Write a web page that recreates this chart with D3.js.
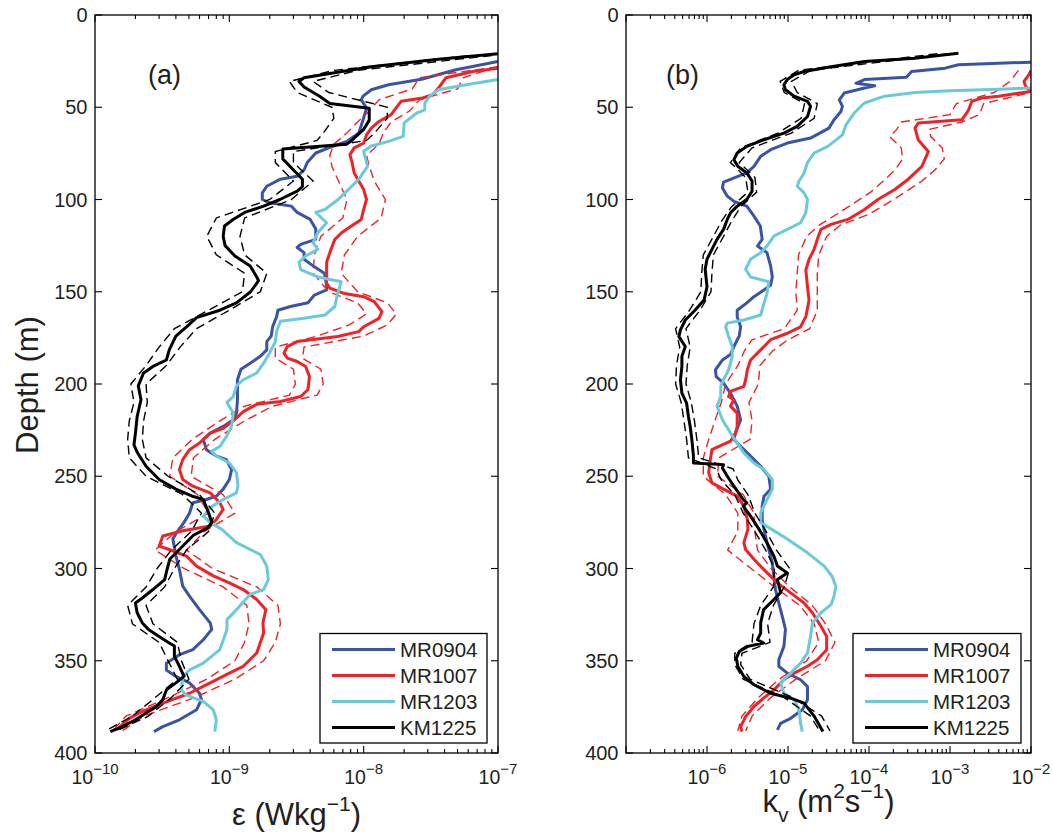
<!DOCTYPE html>
<html>
<head>
<meta charset="utf-8">
<script src="https://cdn.jsdelivr.net/npm/d3@7"></script>
<style>
body { margin: 0; background: #fff; }
svg { font-family: "Liberation Sans", Arial, Helvetica, sans-serif; }
</style>
</head>
<body>
<svg id="chart" width="1053" height="836"></svg>
<script>
// cruises (legend order) and their line colours
var cruises = ["MR0904", "MR1007", "MR1203", "KM1225"];
var colors = { MR0904: "#3a54a5", MR1007: "#ee2227", MR1203: "#6bcad9", KM1225: "#000000" };
var depthTicks = [0, 50, 100, 150, 200, 250, 300, 350, 400];

// ---- panel (a): dissipation rate epsilon (W/kg) ----
var depA_MR0904 = [25.2, 29.7, 34.8, 37.8, 40.5, 44, 46, 50.5, 56.8, 64, 68.5, 72, 74.8, 80, 84, 87.4, 89, 92.8, 96.4, 100, 101.8, 103.6, 107, 110.8, 116, 121.6, 124.3, 126, 128.8, 132.4, 136.5, 140, 146.4, 149, 151.8, 156, 158, 160, 163.5, 169, 174, 177, 181.5, 185, 188.7, 192, 197.7, 208.5, 215.8, 219.4, 223, 226.6, 230, 235.6, 239, 241, 246.4, 251.8, 257, 260.8, 262.6, 264.4, 270, 275, 280, 284, 293, 300.5, 309.6, 315, 322.3, 329.5, 333, 338.6, 344, 346.7, 351.3, 355, 358.5, 362, 367.6, 371, 376.6, 382, 385.7, 388.4];
var epsMR0904 = [1e-7, 4.86e-8, 2.7e-8, 1.53e-8, 1.14e-8, 9.9e-9, 9.6e-9, 1.05e-8, 9.9e-9, 9.2e-9, 7.5e-9, 5.5e-9, 4.4e-9, 3.8e-9, 3.6e-9, 3.2e-9, 2.4e-9, 1.9e-9, 1.76e-9, 1.76e-9, 2e-9, 2.9e-9, 3.2e-9, 4.0e-9, 4.4e-9, 4.4e-9, 3.4e-9, 3.2e-9, 3.6e-9, 3.6e-9, 4.3e-9, 5.1e-9, 5.3e-9, 5.3e-9, 4.3e-9, 3.85e-9, 2.85e-9, 2.3e-9, 2.25e-9, 2.1e-9, 2.05e-9, 1.9e-9, 1.9e-9, 1.7e-9, 1.43e-9, 1.22e-9, 1.15e-9, 1.15e-9, 1.13e-9, 1.07e-9, 9e-10, 7.2e-10, 6.4e-10, 6.75e-10, 8e-10, 9.5e-10, 1.04e-9, 1.0e-9, 9e-10, 8e-10, 6.75e-10, 5.35e-10, 5.05e-10, 4.6e-10, 4.1e-10, 3.8e-10, 4e-10, 4.25e-10, 4.5e-10, 5.05e-10, 6.0e-10, 7.2e-10, 7.4e-10, 6.4e-10, 5.35e-10, 4.25e-10, 3.4e-10, 3.4e-10, 4e-10, 5.05e-10, 6.0e-10, 6.2e-10, 5.7e-10, 4.25e-10, 3.2e-10, 2.75e-10];

var depA_MR1007 = [28.8, 30.6, 34, 39.6, 43, 45, 46.8, 51.4, 54, 57.7, 61.3, 65, 69.4, 72, 75.7, 80, 85.6, 90, 94.6, 100, 105.4, 110.8, 114.4, 118, 121.6, 128.8, 134, 145.5, 148, 151, 152.7, 155.4, 160.8, 164.4, 169, 171.6, 174.3, 177, 179.7, 183.3, 186, 187.8, 190.5, 196, 203, 206.8, 209.5, 211, 215, 220, 224, 226.6, 232, 235.6, 241, 246.4, 251.8, 255.4, 259, 264.4, 268, 273.4, 277, 279.5, 282.4, 287.9, 289.7, 293.3, 298.7, 304, 307.8, 311.4, 316.8, 322.3, 329.5, 335, 345.8, 353, 356.7, 362, 367.6, 373, 377.5, 381.2, 387.5];
var epsMR1007 = [1e-7, 6.5e-8, 4.1e-8, 3.6e-8, 3.3e-8, 2.75e-8, 1.9e-8, 1.7e-8, 1.6e-8, 1.3e-8, 1.14e-8, 1.05e-8, 1.0e-8, 8.5e-9, 7.9e-9, 8.2e-9, 8.5e-9, 9.2e-9, 1.0e-8, 1.05e-8, 1.0e-8, 9.6e-9, 8.1e-9, 6.85e-9, 6.1e-9, 5.6e-9, 5.3e-9, 5.3e-9, 5.6e-9, 7.2e-9, 1.0e-8, 1.2e-8, 1.37e-8, 1.3e-8, 1.0e-8, 9.2e-9, 6.4e-9, 3.2e-9, 2.7e-9, 2.55e-9, 2.7e-9, 3.2e-9, 3.7e-9, 3.95e-9, 3.85e-9, 3.4e-9, 2.4e-9, 1.6e-9, 1.27e-9, 1.07e-9, 9e-10, 7.2e-10, 6.0e-10, 5.05e-10, 4.5e-10, 4.25e-10, 4.5e-10, 5.35e-10, 7.2e-10, 8.5e-10, 9e-10, 8e-10, 7.2e-10, 4.5e-10, 3.2e-10, 3e-10, 3.57e-10, 4.8e-10, 5.7e-10, 7.6e-10, 1e-9, 1.27e-9, 1.6e-9, 1.87e-9, 1.78e-9, 1.8e-9, 1.6e-9, 1.27e-9, 1e-9, 7.2e-10, 5.05e-10, 3.2e-10, 2.25e-10, 1.8e-10, 1.45e-10];
var depA_MR1007ci = [28, 34, 40, 46, 52, 58, 64, 70, 76, 82, 90, 100, 110, 120, 130, 140, 150, 156, 162, 168, 174, 180, 186, 192, 200, 206, 212, 220, 230, 240, 250, 260, 270, 280, 290, 300, 310, 320, 330, 340, 350, 360, 370, 380, 388];
var epsMR1007lo = [1e-7, 2.6e-8, 2.3e-8, 1.3e-8, 1.1e-8, 9e-9, 7.5e-9, 6e-9, 5.6e-9, 5.8e-9, 6.5e-9, 7.5e-9, 7e-9, 4.8e-9, 4.3e-9, 4.2e-9, 5.5e-9, 9e-9, 1.05e-8, 7.8e-9, 4.5e-9, 2.2e-9, 2.2e-9, 3.0e-9, 3.1e-9, 2.8e-9, 1.3e-9, 8.5e-10, 5.3e-10, 3.8e-10, 3.6e-10, 5.8e-10, 7e-10, 4.0e-10, 2.8e-10, 4.6e-10, 9e-10, 1.35e-9, 1.4e-9, 1.3e-9, 1.1e-9, 6.8e-10, 3.5e-10, 1.7e-10, 1.35e-10];
var epsMR1007hi = [1e-7, 5.5e-8, 5e-8, 2.6e-8, 2.2e-8, 1.6e-8, 1.4e-8, 1.3e-8, 1.05e-8, 1.1e-8, 1.2e-8, 1.45e-8, 1.35e-8, 9e-9, 7.2e-9, 6.8e-9, 9e-9, 1.5e-8, 1.75e-8, 1.5e-8, 1.0e-8, 3.6e-9, 3.5e-9, 4.8e-9, 5e-9, 4.5e-9, 2.1e-9, 1.3e-9, 7.8e-10, 5.4e-10, 5.2e-10, 9e-10, 1.1e-9, 6.5e-10, 4.8e-10, 7.5e-10, 1.6e-9, 2.3e-9, 2.4e-9, 2.2e-9, 1.8e-9, 1.1e-9, 5.5e-10, 2.3e-10, 1.6e-10];

var depA_MR1203 = [35, 37.8, 40.5, 44, 47.7, 51.4, 53, 58.5, 65.8, 68.5, 71, 73.9, 82, 89, 94.6, 100, 105.4, 107, 112.6, 118, 123.4, 127, 130.6, 134, 138, 142, 144.6, 151, 158, 162.6, 164.4, 166, 171.6, 177, 183, 188.7, 194, 197.7, 201, 206.8, 210, 215.8, 223, 228, 233.8, 236.5, 239, 242.8, 248, 255, 259, 262.6, 267, 271.6, 275, 278.8, 286, 292.4, 298.7, 306, 311.4, 314, 322.3, 327.7, 333, 344, 351.3, 355, 358.5, 365.8, 368.5, 372, 376.6, 382, 388.4];
var epsMR1203 = [1e-7, 5.8e-8, 3.6e-8, 3.1e-8, 2.85e-8, 2.85e-8, 2.5e-8, 2.0e-8, 1.97e-8, 1.53e-8, 1.14e-8, 1.0e-8, 1.07e-8, 9.2e-9, 7.7e-9, 6.45e-9, 5.15e-9, 4.4e-9, 5.3e-9, 4.55e-9, 4.2e-9, 4.55e-9, 3.7e-9, 3.3e-9, 3.4e-9, 4.55e-9, 6.8e-9, 6.4e-9, 6.1e-9, 5.15e-9, 3.6e-9, 2.4e-9, 2.25e-9, 2.2e-9, 2e-9, 1.8e-9, 1.6e-9, 1.27e-9, 1.13e-9, 1.07e-9, 9.6e-10, 1.07e-9, 1.04e-9, 9.6e-10, 8.5e-10, 7.4e-10, 8e-10, 1e-9, 1.13e-9, 1.16e-9, 1.13e-9, 9e-10, 7.2e-10, 6.4e-10, 7.2e-10, 8.8e-10, 1.13e-9, 1.7e-9, 1.9e-9, 1.95e-9, 1.8e-9, 1.43e-9, 1.13e-9, 9.6e-10, 9.6e-10, 8.5e-10, 6.4e-10, 5.05e-10, 4.5e-10, 4.4e-10, 4.75e-10, 6.4e-10, 7.6e-10, 8e-10, 7.8e-10];

var depA_KM1225 = [21, 24, 28, 31, 34, 36, 39, 44, 48, 50.5, 57, 62, 68.5, 70, 72.6, 78, 84, 89, 93, 95.5, 100, 103.6, 107, 111, 114.4, 120, 125, 130.6, 136, 142, 144, 150, 156, 160, 164, 169, 174, 181.5, 187, 190.5, 194, 201, 208.5, 217.6, 226.6, 233, 237, 244.6, 251.8, 257, 261, 262.6, 269.8, 275, 278, 282, 289.7, 295, 302, 306, 311.4, 316, 318.7, 324, 329.5, 333, 336.8, 340.4, 342, 347.6, 353, 358.5, 362, 365.8, 371, 375, 377.5, 382, 385.7, 388.4];
var epsKM1225 = [1e-7, 3.6e-8, 1.14e-8, 6.4e-9, 3.6e-9, 3.3e-9, 3.6e-9, 4.7e-9, 5.6e-9, 1.1e-8, 1.1e-8, 1.0e-8, 8e-9, 7.5e-9, 2.5e-9, 2.5e-9, 3e-9, 3.5e-9, 3.5e-9, 3.2e-9, 2.38e-9, 1.8e-9, 1.3e-9, 1.06e-9, 9.2e-10, 9e-10, 9.3e-10, 1.1e-9, 1.43e-9, 1.6e-9, 1.65e-9, 1.44e-9, 1.13e-9, 8.5e-10, 5.7e-10, 4.8e-10, 4.0e-10, 3.57e-10, 3.4e-10, 2.7e-10, 2.3e-10, 2.1e-10, 2.2e-10, 2.06e-10, 2.0e-10, 1.95e-10, 2.06e-10, 2.4e-10, 3.0e-10, 4.0e-10, 5.4e-10, 6.4e-10, 7e-10, 7.4e-10, 6.9e-10, 5.4e-10, 4.25e-10, 3.6e-10, 3.4e-10, 3.3e-10, 2.7e-10, 2.25e-10, 2.0e-10, 2.06e-10, 2.25e-10, 2.5e-10, 3.0e-10, 3.57e-10, 3.9e-10, 3.9e-10, 4.25e-10, 4.6e-10, 4.0e-10, 3.4e-10, 3.2e-10, 2.85e-10, 2.5e-10, 2.0e-10, 1.6e-10, 1.3e-10];
var depA_KM1225ci = [22, 30, 36, 42, 50, 56, 64, 68, 74, 80, 90, 100, 110, 120, 130, 140, 150, 160, 170, 180, 190, 200, 210, 220, 230, 240, 250, 260, 270, 280, 290, 300, 310, 320, 330, 340, 350, 360, 370, 380, 388];
var epsKM1225lo = [6e-8, 6e-9, 2.8e-9, 3.2e-9, 5.8e-9, 6e-9, 5e-9, 4.5e-9, 2.2e-9, 2.2e-9, 3.0e-9, 2.0e-9, 8e-10, 6.8e-10, 8e-10, 1.3e-9, 1.25e-9, 7e-10, 3.9e-10, 3.0e-10, 2.4e-10, 1.85e-10, 1.95e-10, 1.8e-10, 1.75e-10, 1.8e-10, 2.4e-10, 4.5e-10, 6.2e-10, 5.2e-10, 3.7e-10, 2.9e-10, 2.4e-10, 1.75e-10, 1.9e-10, 3.0e-10, 3.5e-10, 4.1e-10, 2.8e-10, 1.9e-10, 1.2e-10];
var epsKM1225hi = [9e-8, 9e-9, 4.2e-9, 5.5e-9, 1.5e-8, 1.5e-8, 1.2e-8, 1.05e-8, 3.0e-9, 3.0e-9, 4.2e-9, 2.9e-9, 1.3e-9, 1.2e-9, 1.3e-9, 1.9e-9, 1.7e-9, 1.0e-9, 5.7e-10, 4.3e-10, 3.4e-10, 2.4e-10, 2.45e-10, 2.3e-10, 2.25e-10, 2.4e-10, 3.5e-10, 6.0e-10, 7.8e-10, 7.0e-10, 4.8e-10, 3.9e-10, 3.3e-10, 2.4e-10, 2.7e-10, 4.1e-10, 4.4e-10, 5.0e-10, 3.7e-10, 2.5e-10, 1.45e-10];

// ---- panel (b): diffusivity k_v (m^2/s) ----
var depB_MR0904 = [25.6, 26.1, 27, 28.8, 30.6, 33.7, 35, 37, 38.4, 39.6, 42.3, 46, 49.5, 52.3, 56.8, 61.3, 66.7, 69.4, 73, 76.6, 82, 85.6, 90.6, 93.7, 98.2, 101, 103.6, 109, 114.4, 121.6, 125.2, 128.8, 136, 142, 146.4, 149, 152.7, 156, 160, 163.5, 169, 174, 179.7, 184, 187, 192.3, 196, 199.5, 205, 212, 219.4, 226.6, 230, 233.8, 239, 244.6, 250, 257, 260.8, 266.2, 273.4, 278.8, 286, 297, 311.4, 318.7, 326, 333, 342.2, 349.5, 353, 356.7, 360.3, 364, 371.2, 376.6, 381.2, 383.9, 387.5];
var kvMR0904 = [1e-2, 4e-3, 1.27e-3, 8.7e-4, 3.35e-4, 2.9e-4, 8.8e-5, 6.9e-5, 1.18e-4, 8.8e-5, 4.95e-5, 4.3e-5, 4.7e-5, 4.5e-5, 3.7e-5, 3.2e-5, 1.9e-5, 9.8e-6, 6.1e-6, 4.6e-6, 3.8e-6, 3.1e-6, 1.6e-6, 1.55e-6, 1.78e-6, 2.15e-6, 3.1e-6, 3.8e-6, 4.55e-6, 4.8e-6, 4.2e-6, 5.5e-6, 6.1e-6, 6.4e-6, 6.1e-6, 5.05e-6, 3.8e-6, 3.1e-6, 2.36e-6, 2.36e-6, 2.6e-6, 2.5e-6, 2.15e-6, 1.95e-6, 1.55e-6, 1.27e-6, 1.3e-6, 1.6e-6, 1.95e-6, 2.36e-6, 2.6e-6, 2.25e-6, 2.15e-6, 2.6e-6, 3.45e-6, 4.6e-6, 5.8e-6, 6.1e-6, 5.05e-6, 4.8e-6, 4.8e-6, 5.05e-6, 5.5e-6, 6.4e-6, 7.0e-6, 7.7e-6, 8.5e-6, 9.3e-6, 8.9e-6, 7.7e-6, 7.7e-6, 9.8e-6, 1.43e-5, 1.74e-5, 1.74e-5, 1.5e-5, 1.08e-5, 8.1e-6, 7.4e-6];

var depB_MR1007 = [30, 32.4, 36, 38.7, 41.4, 44, 45, 46.8, 51.4, 55, 56.8, 58.5, 61.3, 67.6, 74, 82, 89, 94.6, 100, 105.4, 110.8, 113.5, 116.2, 121.6, 127, 132.4, 138.3, 147.3, 154.5, 163.5, 169, 172.5, 176, 181.5, 187, 192.3, 197.7, 201.3, 204, 206.8, 208.5, 212, 215.8, 223, 226.6, 231, 235.6, 241, 248, 253.6, 257, 260.8, 266.2, 273.4, 278.8, 286, 289.7, 295, 300.5, 307.8, 313.2, 318.7, 324, 331.3, 336.8, 344, 349.5, 353, 356.7, 360.3, 365.8, 370.3, 374.8, 380.3, 385.7, 388.4];
var kvMR1007 = [1e-2, 9.4e-3, 8.2e-3, 8.6e-3, 1e-2, 4e-3, 2.47e-3, 1.86e-3, 1.7e-3, 1.5e-3, 1.4e-3, 4.05e-4, 3.7e-4, 4.05e-4, 5.4e-4, 4.5e-4, 3.05e-4, 2.08e-4, 1.29e-4, 8.8e-5, 5.5e-5, 3.4e-5, 2.55e-5, 2.3e-5, 2.1e-5, 1.82e-5, 1.66e-5, 1.74e-5, 1.82e-5, 1.66e-5, 1.43e-5, 9.8e-6, 6.1e-6, 4.6e-6, 3.45e-6, 3.15e-6, 3.0e-6, 2.85e-6, 1.95e-6, 1.85e-6, 2.15e-6, 1.95e-6, 2.36e-6, 2.36e-6, 2.25e-6, 1.95e-6, 1.15e-6, 1.1e-6, 1.05e-6, 1.15e-6, 1.6e-6, 2.36e-6, 2.85e-6, 3.15e-6, 3.2e-6, 2.85e-6, 3.0e-6, 3.8e-6, 5.0e-6, 7.4e-6, 1.08e-5, 1.58e-5, 2e-5, 2.55e-5, 3e-5, 3e-5, 2.3e-5, 1.74e-5, 1.19e-5, 8.9e-6, 6.7e-6, 5e-6, 3.8e-6, 3.0e-6, 2.6e-6, 2.7e-6];
var depB_MR1007ci = [30, 36, 42, 48, 54, 58, 62, 66, 72, 78, 84, 90, 96, 102, 108, 114, 120, 130, 140, 150, 160, 170, 176, 182, 190, 200, 210, 220, 230, 240, 250, 260, 270, 280, 290, 300, 310, 320, 330, 340, 350, 360, 370, 380, 388];
var kvMR1007lo = [7e-3, 5.5e-3, 3.5e-3, 1.2e-3, 1.0e-3, 2.5e-4, 2.2e-4, 1.8e-4, 2.5e-4, 2.6e-4, 2.1e-4, 1.5e-4, 1.05e-4, 6.5e-5, 4e-5, 2.4e-5, 1.7e-5, 1.35e-5, 1.3e-5, 1.25e-5, 1.3e-5, 9e-6, 3.6e-6, 2.9e-6, 2.4e-6, 1.7e-6, 1.5e-6, 1.25e-6, 1.05e-6, 9e-7, 9e-7, 1.7e-6, 2.4e-6, 2.4e-6, 1.8e-6, 3.5e-6, 6.8e-6, 1.4e-5, 2.1e-5, 2.4e-5, 1.7e-5, 7.8e-6, 4.3e-6, 2.7e-6, 2.4e-6];
var kvMR1007hi = [1e-2, 1e-2, 1e-2, 2.6e-3, 2.3e-3, 1.4e-3, 5.5e-4, 5.8e-4, 8e-4, 8.5e-4, 6.5e-4, 4.5e-4, 2.8e-4, 1.7e-4, 1.0e-4, 4.4e-5, 3.0e-5, 2.4e-5, 2.3e-5, 2.3e-5, 2.3e-5, 1.85e-5, 1.0e-5, 6.5e-6, 4.5e-6, 4.3e-6, 3.3e-6, 3.6e-6, 3.4e-6, 1.4e-6, 1.35e-6, 2.8e-6, 3.8e-6, 3.9e-6, 4.2e-6, 6.2e-6, 1.05e-5, 2.0e-5, 2.9e-5, 3.8e-5, 2.9e-5, 1.25e-5, 6.1e-6, 3.6e-6, 3.0e-6];

var depB_MR1203 = [39.6, 40.2, 41, 42, 44, 47.7, 53, 59.5, 65, 71.2, 74.8, 80, 85.6, 90, 92.8, 96.4, 100, 107.2, 112.6, 116.2, 119.8, 125.2, 128.8, 132.4, 137.8, 142, 144.6, 151, 156.3, 162.6, 165.3, 167, 169, 174.3, 179.7, 185, 192.3, 197.7, 201.3, 206.8, 212, 219.4, 226.6, 232, 237.4, 242.8, 246.4, 251.8, 257, 262.6, 269.8, 275.2, 278.8, 284, 291.5, 298.7, 304.2, 309.6, 315, 319.6, 324, 329.5, 336.8, 345.8, 351.3, 356.7, 362, 367.6, 371.2, 376.6, 383.9, 388.4];
var kvMR1203 = [1e-2, 4e-3, 1e-3, 3.7e-4, 1.56e-4, 8.8e-5, 6.6e-5, 5.2e-5, 4.7e-5, 3.1e-5, 2.1e-5, 1.74e-5, 1.58e-5, 1.37e-5, 1.3e-5, 1.58e-5, 1.74e-5, 1.66e-5, 1.43e-5, 9.8e-6, 6.7e-6, 5.5e-6, 4.6e-6, 3.45e-6, 3.0e-6, 3.45e-6, 5.8e-6, 5.5e-6, 5.05e-6, 4.6e-6, 2.85e-6, 1.78e-6, 1.7e-6, 1.85e-6, 2.05e-6, 2.05e-6, 1.85e-6, 1.6e-6, 1.48e-6, 1.48e-6, 1.33e-6, 1.55e-6, 1.95e-6, 2.36e-6, 2.85e-6, 3.8e-6, 5.05e-6, 6.4e-6, 6.4e-6, 5.5e-6, 4.6e-6, 4.6e-6, 6.3e-6, 9.8e-6, 1.74e-5, 2.8e-5, 3.5e-5, 3.9e-5, 3.7e-5, 3.4e-5, 2.55e-5, 2e-5, 1.9e-5, 1.74e-5, 1.43e-5, 1.08e-5, 8.1e-6, 8.9e-6, 1.19e-5, 1.37e-5, 1.43e-5, 1.5e-5];

var depB_KM1225 = [20.7, 23.4, 25.2, 28, 30.6, 32.4, 35, 37.8, 40.5, 44, 46.8, 49.5, 55, 60.4, 64, 67.6, 71.2, 74.8, 78.4, 82, 85.6, 90, 95.5, 100, 103.6, 107.2, 110.8, 116.2, 121.6, 127, 132.4, 137.8, 147.3, 154.5, 160, 165.3, 170.7, 174.3, 179.7, 185, 190.5, 197.7, 205, 210.4, 217.6, 223, 230, 239, 242.8, 243.7, 245.5, 250, 255.4, 262.6, 264.4, 266.2, 271.6, 278.8, 286, 293.3, 298.7, 302.4, 306, 313, 316.8, 322.3, 329.5, 335, 338.6, 340.4, 342.2, 345, 348.6, 353, 358.5, 363, 367.6, 370.3, 373, 380, 388.4];
var kvKM1225 = [1.27e-3, 3.7e-4, 8.8e-5, 3.4e-5, 1.58e-5, 1.19e-5, 9.8e-6, 8.9e-6, 9.3e-6, 1.19e-5, 1.74e-5, 1.9e-5, 1.74e-5, 1.3e-5, 8.9e-6, 5.05e-6, 3.1e-6, 2.36e-6, 2.15e-6, 2.4e-6, 3.1e-6, 3.6e-6, 3.6e-6, 3.1e-6, 2.36e-6, 1.95e-6, 1.78e-6, 1.6e-6, 1.33e-6, 1.15e-6, 1e-6, 9.5e-7, 1e-6, 9.2e-7, 7.1e-7, 5.4e-7, 4.7e-7, 4.5e-7, 5.4e-7, 4.9e-7, 4.9e-7, 4.7e-7, 4.9e-7, 5.6e-7, 5.9e-7, 6.2e-7, 6.5e-7, 6.8e-7, 6.8e-7, 1.6e-6, 1.55e-6, 1.78e-6, 2.15e-6, 2.8e-6, 3.1e-6, 2.8e-6, 3.45e-6, 4.4e-6, 5.5e-6, 6.7e-6, 7.4e-6, 9.8e-6, 7.4e-6, 8.1e-6, 6.7e-6, 5.0e-6, 4.6e-6, 4.6e-6, 4.2e-6, 5.0e-6, 3.2e-6, 2.5e-6, 2.3e-6, 2.4e-6, 2.85e-6, 3.8e-6, 6.1e-6, 1.08e-5, 1.58e-5, 2.1e-5, 2.7e-5];
var depB_KM1225ci = [21, 30, 36, 42, 48, 56, 64, 72, 80, 88, 96, 104, 112, 120, 130, 140, 150, 160, 170, 180, 190, 200, 210, 220, 230, 240, 246, 252, 260, 270, 280, 290, 300, 310, 320, 330, 340, 346, 352, 360, 370, 380, 388];
var kvKM1225lo = [7e-4, 1.35e-5, 8.0e-6, 9e-6, 1.6e-5, 1.45e-5, 7.5e-6, 2.6e-6, 1.95e-6, 3.0e-6, 3.2e-6, 2.0e-6, 1.5e-6, 1.2e-6, 9e-7, 8.6e-7, 8.4e-7, 6.1e-7, 4.1e-7, 4.6e-7, 4.2e-7, 4.1e-7, 4.8e-7, 5.2e-7, 5.6e-7, 5.9e-7, 1.3e-6, 1.5e-6, 2.2e-6, 2.8e-6, 3.9e-6, 5.3e-6, 6.8e-6, 6.6e-6, 4.6e-6, 3.8e-6, 3.6e-6, 2.2e-6, 2.2e-6, 2.8e-6, 9e-6, 1.9e-5, 2.45e-5];
var kvKM1225hi = [1.0e-3, 1.9e-5, 1.1e-5, 1.3e-5, 2.3e-5, 2.1e-5, 1.1e-5, 3.6e-6, 2.5e-6, 3.9e-6, 4.1e-6, 2.6e-6, 2.0e-6, 1.6e-6, 1.2e-6, 1.15e-6, 1.12e-6, 8.2e-7, 5.5e-7, 6.2e-7, 5.7e-7, 5.5e-7, 6.4e-7, 7e-7, 7.5e-7, 7.9e-7, 2.1e-6, 2.4e-6, 3.2e-6, 3.9e-6, 5.4e-6, 7.2e-6, 1.05e-5, 9e-6, 6.6e-6, 5.6e-6, 6e-6, 2.7e-6, 2.6e-6, 3.4e-6, 1.15e-5, 2.6e-5, 3.3e-5];

var svg = d3.select("#chart");
var top0 = 15, bottom0 = 753;
var ink = "#231f20";

function supLabel(sel, exp) {
  sel.text("10").append("tspan")
    .attr("dy", -10).attr("font-size", 15)
    .text("\u2212" + Math.abs(exp));
}

function drawPanel(opt) {
  var x = d3.scaleLog().domain(opt.domain).range([opt.left, opt.right]);
  var y = d3.scaleLinear().domain([0, 400]).range([top0, bottom0]);
  var g = svg.append("g");

  var clipId = "clip" + opt.name;
  svg.append("clipPath").attr("id", clipId).append("rect")
    .attr("x", opt.left).attr("y", top0)
    .attr("width", opt.right - opt.left).attr("height", bottom0 - top0);

  var line = d3.line().x(function(d) { return x(d[1]); }).y(function(d) { return y(d[0]); });
  var plot = g.append("g").attr("clip-path", "url(#" + clipId + ")");

  opt.series.forEach(function(s) {
    if (s.ciDepth) {
      [s.lo, s.hi].forEach(function(arr) {
        plot.append("path")
          .datum(d3.zip(s.ciDepth, arr))
          .attr("d", line)
          .attr("fill", "none")
          .attr("stroke", colors[s.name])
          .attr("stroke-width", 1.4)
          .attr("stroke-dasharray", "9,5");
      });
    }
    plot.append("path")
      .datum(d3.zip(s.depth, s.vals))
      .attr("d", line)
      .attr("fill", "none")
      .attr("stroke", colors[s.name])
      .attr("stroke-width", 3)
      .attr("stroke-linejoin", "round");
  });

  // box
  g.append("rect")
    .attr("x", opt.left).attr("y", top0)
    .attr("width", opt.right - opt.left).attr("height", bottom0 - top0)
    .attr("fill", "none").attr("stroke", "#000").attr("stroke-width", 1.3);

  // log ticks on top and bottom (inward)
  var e0 = Math.round(Math.log10(opt.domain[0])), e1 = Math.round(Math.log10(opt.domain[1]));
  var ticks = [];
  d3.range(e0, e1).forEach(function(e) {
    d3.range(1, 10).forEach(function(k) { ticks.push({ v: k * Math.pow(10, e), major: k === 1, e: e }); });
  });
  ticks.push({ v: Math.pow(10, e1), major: true, e: e1 });

  ticks.forEach(function(t) {
    var xx = x(t.v), len = t.major ? 7 : 4;
    g.append("line").attr("x1", xx).attr("x2", xx).attr("y1", bottom0).attr("y2", bottom0 - len)
      .attr("stroke", "#000").attr("stroke-width", 1.1);
    g.append("line").attr("x1", xx).attr("x2", xx).attr("y1", top0).attr("y2", top0 + len)
      .attr("stroke", "#000").attr("stroke-width", 1.1);
    if (t.major && opt.labels.indexOf(t.e) >= 0) {
      g.append("text").attr("x", xx).attr("y", 784)
        .attr("text-anchor", "middle").attr("font-size", 19.5).attr("fill", ink)
        .call(supLabel, t.e);
    }
  });

  // depth ticks on both sides
  depthTicks.forEach(function(d) {
    var yy = y(d);
    g.append("line").attr("x1", opt.left).attr("x2", opt.left + 7).attr("y1", yy).attr("y2", yy)
      .attr("stroke", "#000").attr("stroke-width", 1.1);
    g.append("line").attr("x1", opt.right).attr("x2", opt.right - 7).attr("y1", yy).attr("y2", yy)
      .attr("stroke", "#000").attr("stroke-width", 1.1);
    g.append("text").attr("x", opt.left - 7.5).attr("y", yy).attr("dy", "0.36em")
      .attr("text-anchor", "end").attr("font-size", 20).attr("fill", ink).text(d);
  });

  // panel letter
  g.append("text").attr("x", opt.letterX).attr("y", 84)
    .attr("font-size", 27).attr("fill", ink).text(opt.letter);

  // legend
  var lg = g.append("g").attr("transform", "translate(" + opt.legendX + ",633.5)");
  lg.append("rect").attr("width", opt.legendW).attr("height", 109.5)
    .attr("fill", "#fff").attr("stroke", "#000").attr("stroke-width", 1.3);
  cruises.forEach(function(c, i) {
    var ly = 16 + i * 26;
    lg.append("line").attr("x1", 12).attr("x2", 75).attr("y1", ly).attr("y2", ly)
      .attr("stroke", colors[c]).attr("stroke-width", 3);
    lg.append("text").attr("x", 80).attr("y", ly).attr("dy", "0.36em")
      .attr("font-size", 20.5).attr("fill", ink).text(c);
  });

  return g;
}

var gA = drawPanel({
  name: "A", left: 95, right: 498, domain: [1e-10, 1e-7], labels: [-10, -9, -8, -7],
  letter: "(a)", letterX: 148, legendX: 320, legendW: 167,
  series: [
    { name: "MR0904", depth: depA_MR0904, vals: epsMR0904 },
    { name: "MR1007", depth: depA_MR1007, vals: epsMR1007, ciDepth: depA_MR1007ci, lo: epsMR1007lo, hi: epsMR1007hi },
    { name: "MR1203", depth: depA_MR1203, vals: epsMR1203 },
    { name: "KM1225", depth: depA_KM1225, vals: epsKM1225, ciDepth: depA_KM1225ci, lo: epsKM1225lo, hi: epsKM1225hi }
  ]
});

var gB = drawPanel({
  name: "B", left: 626, right: 1031, domain: [1e-7, 1e-2], labels: [-6, -5, -4, -3, -2],
  letter: "(b)", letterX: 666, legendX: 853, legendW: 168,
  series: [
    { name: "MR0904", depth: depB_MR0904, vals: kvMR0904 },
    { name: "MR1007", depth: depB_MR1007, vals: kvMR1007, ciDepth: depB_MR1007ci, lo: kvMR1007lo, hi: kvMR1007hi },
    { name: "MR1203", depth: depB_MR1203, vals: kvMR1203 },
    { name: "KM1225", depth: depB_KM1225, vals: kvKM1225, ciDepth: depB_KM1225ci, lo: kvKM1225lo, hi: kvKM1225hi }
  ]
});

// axis titles
svg.append("text").attr("transform", "translate(37.5,385) rotate(-90)")
  .attr("text-anchor", "middle").attr("font-size", 31).attr("fill", ink).text("Depth (m)");

var tA = svg.append("text").attr("x", 296.5).attr("y", 825)
  .attr("text-anchor", "middle").attr("font-size", 31).attr("fill", ink);
tA.append("tspan").text("\u03b5 (Wkg");
tA.append("tspan").attr("dy", -14).attr("font-size", 21).text("\u22121");
tA.append("tspan").attr("dy", 14).text(")");

var tB = svg.append("text").attr("x", 828.5).attr("y", 812)
  .attr("text-anchor", "middle").attr("font-size", 31).attr("fill", ink);
tB.append("tspan").text("k");
tB.append("tspan").attr("dy", 10).attr("font-size", 21).text("v");
tB.append("tspan").attr("dy", -10).text(" (m");
tB.append("tspan").attr("dy", -14).attr("font-size", 21).text("2");
tB.append("tspan").attr("dy", 14).text("s");
tB.append("tspan").attr("dy", -14).attr("font-size", 21).text("\u22121");
tB.append("tspan").attr("dy", 14).text(")");
</script>
</body>
</html>
